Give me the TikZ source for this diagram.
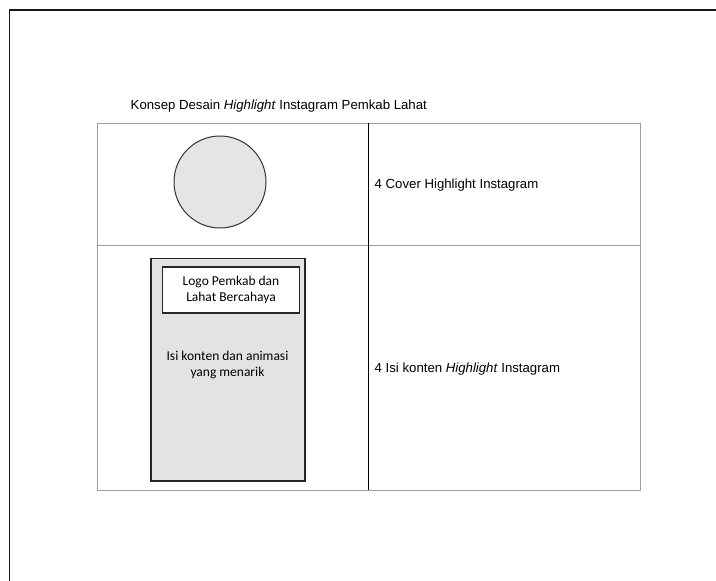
\documentclass[tikz,border=0pt]{standalone}
\usepackage{fontspec}
\setmainfont{Liberation Sans}
\newfontfamily\calibrifont{Carlito}
\begin{document}
\begin{tikzpicture}[x=1pt, y=-1pt,
	cell/.style={color=black!38, line width=1pt},
	labeltext/.style={font=\fontsize{13.2}{16}\selectfont, inner sep=0pt},
	boxtext/.style={font=\calibrifont\fontsize{13.5}{16}\selectfont, align=center, inner sep=0pt}]
	\useasboundingbox[fill=white] (0,0) rectangle (716,581);
	\draw[line width=1.7pt, color=black!90] (9.5,620) -- (9.5,10) -- (740,10);
	
	\draw[cell] (97,123) -- (97,490) -- (640,490) -- (640,123) -- cycle;
	\draw[cell] (97,245) -- (640,245);
	\draw[line width=0.9pt] (368,123) -- (368,490);
	
	\node[labeltext, anchor=base west] (title) at (130.5,109) {Konsep Desain \textit{Highlight} Instagram Pemkab Lahat};
	
	\draw[color=black!80, fill=black!10, line width=1pt] (220,182) circle (46);
	\node[labeltext, anchor=base west] (cover) at (374.5,188.5) {4 Cover Highlight Instagram};
	
	\draw[color=black!85, fill=black!11, line width=1.8pt] (151,258.5) rectangle (305,481);
	\draw[color=black!85, fill=white, line width=1.2pt] (162.5,267) rectangle (299.5,313);
	\node[boxtext] (logo) at (231,289.5) {Logo Pemkab dan\\Lahat Bercahaya};
	\node[boxtext] (isi) at (227.5,365) {Isi konten dan animasi\\yang menarik};
	\node[labeltext, anchor=base west] (konten) at (374.5,372.5) {4 Isi konten \textit{Highlight} Instagram};
\end{tikzpicture}
\end{document}
